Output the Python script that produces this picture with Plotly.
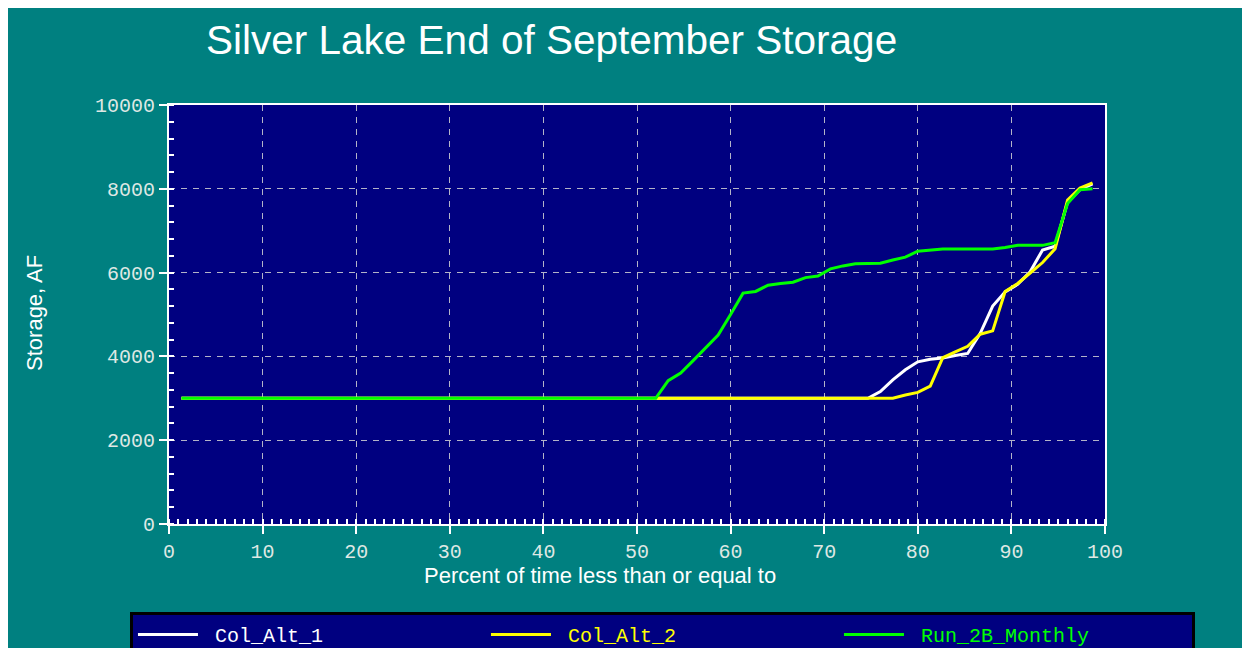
import plotly.graph_objects as go

# Exceedance-style percent positions (74 values)
percent = [1.33, 2.67, 4.0, 5.33, 6.67, 8.0, 9.33, 10.67, 12.0, 13.33, 14.67, 16.0,
           17.33, 18.67, 20.0, 21.33, 22.67, 24.0, 25.33, 26.67, 28.0, 29.33, 30.67,
           32.0, 33.33, 34.67, 36.0, 37.33, 38.67, 40.0, 41.33, 42.67, 44.0, 45.33,
           46.67, 48.0, 49.33, 50.67, 52.0, 53.33, 54.67, 56.0, 57.33, 58.67, 60.0,
           61.33, 62.67, 64.0, 65.33, 66.67, 68.0, 69.33, 70.67, 72.0, 73.33, 74.67,
           76.0, 77.33, 78.67, 80.0, 81.33, 82.67, 84.0, 85.33, 86.67, 88.0, 89.33,
           90.67, 92.0, 93.33, 94.67, 96.0, 97.33, 98.67]

col_alt_1 = [3000] * 56 + [3160, 3440, 3680, 3870, 3930, 3960, 4020, 4070, 4550,
                           5200, 5540, 5720, 6020, 6540, 6630, 7680, 7980, 8120]
col_alt_2 = [3000] * 58 + [3080, 3140, 3290, 3970, 4110, 4240, 4530, 4610, 5550,
                           5740, 5990, 6240, 6570, 7730, 8020, 8140]
run_2b = [3000] * 39 + [3420, 3600, 3900, 4200, 4510, 5000, 5510, 5550, 5700, 5740,
                        5770, 5880, 5920, 6090, 6160, 6210, 6220, 6225, 6300, 6370,
                        6510, 6540, 6565, 6565, 6565, 6565, 6565, 6600, 6650, 6650,
                        6650, 6715, 7650, 7980, 8000]

series_names = ["Col_Alt_1", "Col_Alt_2", "Run_2B_Monthly"]
series_colors = ["#ffffff", "#ffff00", "#00ff00"]
x_ticks = [0, 10, 20, 30, 40, 50, 60, 70, 80, 90, 100]
y_ticks = [0, 2000, 4000, 6000, 8000, 10000]
y_tick_labels = ["0", "2000", "4000", "6000", "8000", "10000"]

mono = "Courier New, Liberation Mono, monospace"
sans = "Arial, Liberation Sans, sans-serif"

fig = go.Figure()
for name, vals, col in zip(series_names, [col_alt_1, col_alt_2, run_2b], series_colors):
    fig.add_trace(go.Scatter(
        x=percent, y=vals, mode="lines",
        name=f"<span style='color:{col}'>&nbsp;{name}</span>",
        line=dict(color=col, width=3),
    ))

axis_common = dict(
    showline=True, linecolor="white", linewidth=2, mirror=True,
    ticks="outside", ticklen=8, tickwidth=2, tickcolor="white",
    showgrid=True, gridcolor="#b4b4c8", gridwidth=1, griddash="6px,6px",
    zeroline=False,
    tickfont=dict(family=mono, size=20, color="#dfe8e4"),
)

fig.update_xaxes(range=[0, 100], tickvals=x_ticks,
                 minor=dict(ticks="inside", ticklen=5, tickwidth=2, tickcolor="white",
                            dtick=1, showgrid=False),
                 **axis_common)
fig.update_yaxes(range=[0, 10000], tickvals=y_ticks, ticktext=y_tick_labels,
                 minor=dict(ticks="inside", ticklen=5, tickwidth=2, tickcolor="white",
                            dtick=400, showgrid=False),
                 **axis_common)

fig.update_layout(
    width=1250, height=700,
    paper_bgcolor="#008080", plot_bgcolor="#000080",
    margin=dict(l=161, r=153, t=97, b=184),
    title=dict(text="Silver Lake End of September Storage",
               x=198 / 1250, xanchor="left", xref="container",
               y=1 - 32 / 700, yanchor="middle", yref="container",
               font=dict(family=sans, size=40.5, color="#ffffff")),
    showlegend=True,
    legend=dict(orientation="h", x=-0.0417, xanchor="left", y=-0.21, yanchor="top",
                bgcolor="#000080", bordercolor="#000000", borderwidth=3,
                font=dict(family=mono, size=20, color="#ffffff"),
                entrywidth=278, entrywidthmode="pixels", itemwidth=60),
    annotations=[
        dict(text="Storage, AF", xref="paper", yref="paper", x=-0.1432, y=0.5036,
             textangle=-90, showarrow=False, xanchor="center", yanchor="middle",
             font=dict(family=sans, size=22, color="#ffffff")),
        dict(text="Percent of time less than or equal to", xref="paper", yref="paper",
             x=0.4605, y=-0.124, showarrow=False, xanchor="center", yanchor="middle",
             font=dict(family=sans, size=22, color="#ffffff")),
    ],
)

fig.write_html("out.html")
